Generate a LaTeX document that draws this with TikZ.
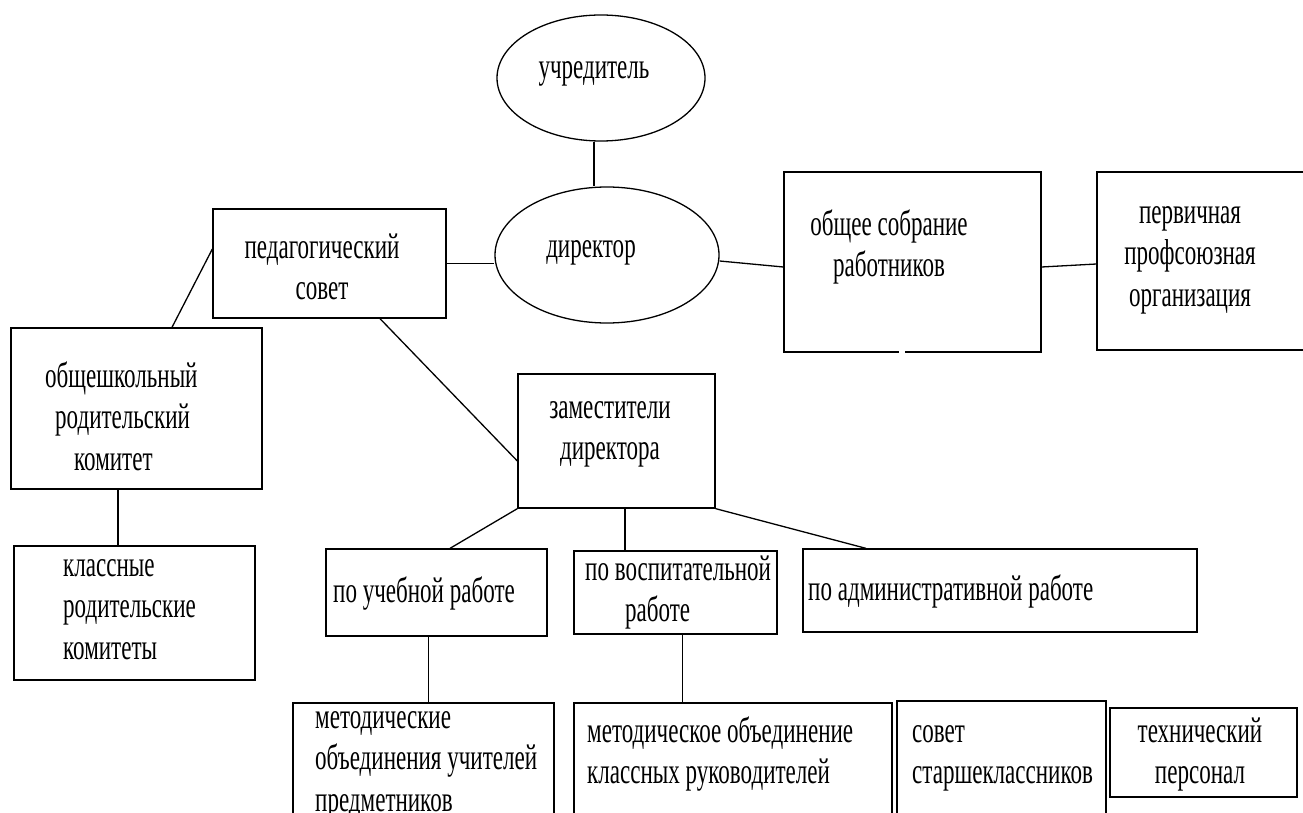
\documentclass[tikz,border=0pt]{standalone}
\usepackage{fontspec}
\setmainfont{Liberation Serif}[FakeStretch=0.64]
\usetikzlibrary{shapes.geometric}
\tikzset{
  box/.style={draw, rectangle, line width=1.3pt, inner sep=0pt},
  oval/.style={draw, ellipse, line width=1.3pt, inner sep=0pt},
  link/.style={line width=1.3pt},
  txt/.style={inner sep=0pt, font=\fontsize{36}{41.5}\selectfont},
  tl/.style={txt, align=left, anchor=north west},
  tc/.style={txt, align=center, anchor=north}
}
\begin{document}
\begin{tikzpicture}[x=1pt,y=-1pt]
\useasboundingbox (0,0) rectangle (1303,813);
\clip (0,0) rectangle (1303,813);
\fill[white] (0,0) rectangle (1303,813);
% shapes
\node[oval, minimum width=208pt, minimum height=126pt] (uchr) at (601,78) {};
\node[oval, minimum width=224pt, minimum height=136pt] (dir) at (607,255) {};
\node[box, minimum width=233pt, minimum height=109pt] (ped) at (329.5,263.5) {};
\node[box, minimum width=257pt, minimum height=180pt] (obsh) at (912.5,262) {};
\node[box, minimum width=218pt, minimum height=178pt] (perv) at (1206,261) {};
\node[box, minimum width=251pt, minimum height=161pt] (rod) at (136.5,408.5) {};
\node[box, minimum width=241pt, minimum height=134pt] (klass) at (134.5,613) {};
\node[box, minimum width=197pt, minimum height=134pt] (zam) at (616.5,441) {};
\node[box, minimum width=221pt, minimum height=87pt] (ucheb) at (436.5,592.5) {};
\node[box, minimum width=203pt, minimum height=83pt] (vosp) at (675.5,592.5) {};
\node[box, minimum width=394pt, minimum height=83pt] (adm) at (1000,590.5) {};
\node[box, minimum width=261pt, minimum height=127pt] (metu) at (423.5,766.5) {};
\node[box, minimum width=318pt, minimum height=127pt] (metk) at (733,766.5) {};
\node[box, minimum width=209pt, minimum height=129pt] (sovet) at (1001.5,765.5) {};
\node[box, minimum width=187pt, minimum height=89pt] (tech) at (1203.5,752.5) {};
% small gap in the bottom edge of the general meeting box
\draw[white, line width=2.2pt] (899,352) -- (905,352);
% texts
\node[tc] (t-uchr) at (594,49) {\strut учредитель};
\node[tc] (t-dir) at (591,228) {\strut директор};
\node[tc] (t-ped) at (322,229) {\strut педагогический\\совет};
\node[tc] (t-obsh) at (889,206) {\strut общее собрание\\работников};
\node[tc] (t-perv) at (1190,194) {\strut первичная\\профсоюзная\\организация};
\node[tl] (t-rod) at (45,358) {\strut общешкольный\\\hspace*{10pt}родительский\\\hspace*{29pt}комитет};
\node[tl] (t-klass) at (63,547) {\strut классные\\родительские\\комитеты};
\node[tc] (t-zam) at (610,389) {\strut заместители\\директора};
\node[tl] (t-ucheb) at (333,573) {\strut по учебной работе};
\node[tl] (t-vosp) at (585,551) {\strut по воспитательной\\\hspace*{40pt}работе};
\node[tl] (t-adm) at (808,571) {\strut по административной работе};
\node[tl] (t-metu) at (315,699) {\strut методические\\объединения учителей\\предметников};
\node[tl] (t-metk) at (587,713) {\strut методическое объединение\\классных руководителей};
\node[tl] (t-sovet) at (912,713) {\strut совет\\старшеклассников};
\node[tc] (t-tech) at (1200,713) {\strut технический\\персонал};
% connectors
\draw[link] ([xshift=-7pt]uchr.south) -- ([xshift=-7pt]uchr.south |- dir.north);
\draw[link] (ped.east) -- (ped.east -| dir.west);
\draw[link] ([yshift=-6pt]dir.east) -- ([yshift=-5pt]obsh.west);
\draw[link] ([yshift=-5pt]obsh.east) -- ([yshift=-3pt]perv.west);
\draw[link] ([yshift=14.5pt]ped.west) -- ([xshift=35.5pt]rod.north);
\draw[link] ([xshift=-18.5pt]rod.south) -- ([xshift=-18.5pt]rod.south |- klass.north);
\draw[link] ([xshift=50.5pt]ped.south) -- ([yshift=-20pt]zam.west);
\draw[link] (zam.south west) -- ([xshift=13.5pt]ucheb.north);
\draw[link] ([xshift=8.5pt]zam.south) -- ([xshift=8.5pt]zam.south |- vosp.north);
\draw[link] (zam.south east) -- ([xshift=-134pt]adm.north);
\draw[link] ([xshift=-8pt]ucheb.south) -- ([xshift=-8pt]ucheb.south |- metu.north);
\draw[link] ([xshift=7pt]vosp.south) -- ([xshift=7pt]vosp.south |- metk.north);
\end{tikzpicture}
\end{document}
